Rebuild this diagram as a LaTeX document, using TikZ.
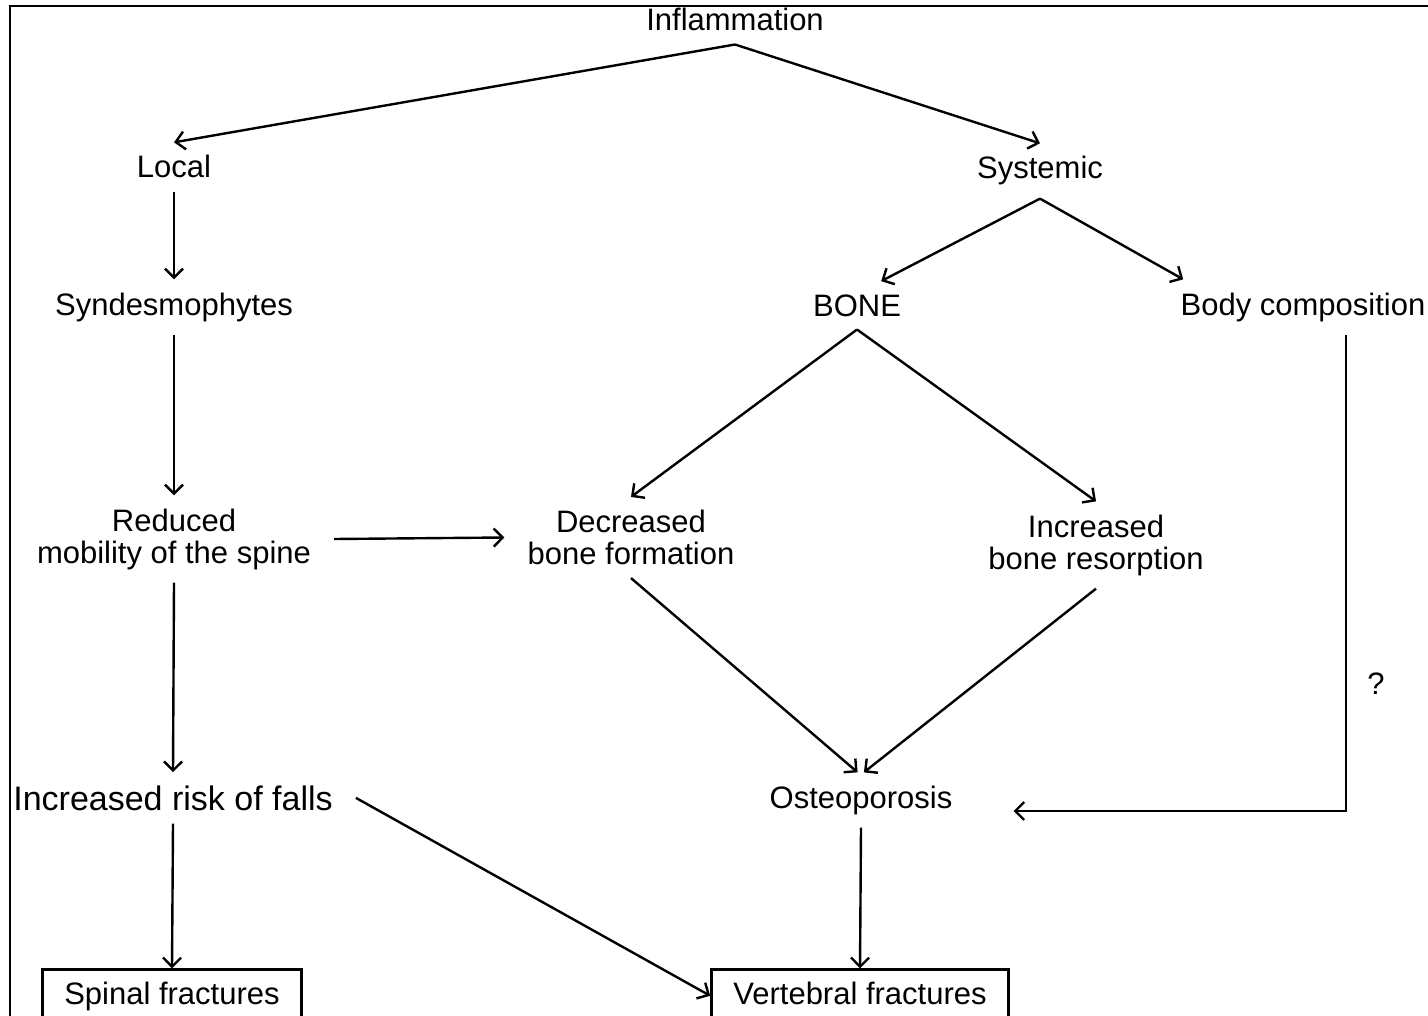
\documentclass[tikz,border=0pt]{standalone}
\usepackage{fontspec}
\setmainfont{Liberation Sans}
\usetikzlibrary{arrows.meta}

\begin{document}
\begin{tikzpicture}[x=0.5pt, y=-0.5pt, line width=1.2pt,
        >={Straight Barb[length=4.5pt,width=9pt]},
        every node/.style={inner xsep=11pt, inner ysep=6pt, font=\fontsize{15.5pt}{16pt}\selectfont},
        txt/.style={anchor=base},
        pair/.style={align=center},
        fracbox/.style={anchor=base, draw, text depth=0.3em}]
        \clip (0, 0) rectangle (1428, 1016);

        % frame
        \draw (10, 1016) |- (1428, 6);

        \node[txt] (inf) at (735, 31) {Inflammation};
        \node[txt] (loc) at (174, 178) {Local};
        \node[txt] (sys) at (1040, 179) {Systemic};
        \node[txt] (syn) at (174, 315) {Syndesmophytes};
        \node[txt] (bone) at (857, 316) {BONE};
        \node[txt] (body) at (1303, 315) {Body composition};

        \node[pair] (red) at (174, 539) {Reduced\\mobility of the spine};
        \node[pair] (dec) at (631, 537.5) {Decreased\\bone formation};
        \node[pair] (inc) at (1096, 545) {Increased\\bone resorption};

        \node[txt, font=\fontsize{17pt}{18pt}\selectfont] (risk) at (173, 810) {Increased risk of falls};
        \node[txt] (osteo) at (861, 808) {Osteoporosis};
        \node[txt] (q) at (1376, 694) {?};

        \node[fracbox] (spinal) at (172, 1004) {Spinal fractures};
        \node[fracbox] (vert) at (860, 1004) {Vertebral fractures};

        \draw[->] (inf.south) -- (loc.north);
        \draw[->] (inf.south) -- (sys.north);
        \draw[->] (loc.south) -- (syn.north);
        \draw[->] (sys.south) -- (bone.45);
        \draw[->] (sys.south) -- (body.167);
        \draw[->] (syn.south) -- (red.north);
        \draw[->] (bone.south) -- (dec.north);
        \draw[->] (bone.south) -- (inc.north);
        \draw[->] (red.east) -- (dec.west);
        \draw[->] (red.south) -- (risk.north);
        \draw[->] (dec.south) -- (osteo.97);
        \draw[->] (inc.south) -- (osteo.84);
        \draw[->] ([xshift=21.5pt]body.south) |- ([shift={(19pt,-5.5pt)}]osteo.east);
        \draw[->] (risk.south) -- (spinal.north);
        \draw[->] (risk.east) -- (vert.west);
        \draw[->] (osteo.south) -- (vert.north);
\end{tikzpicture}
\end{document}
